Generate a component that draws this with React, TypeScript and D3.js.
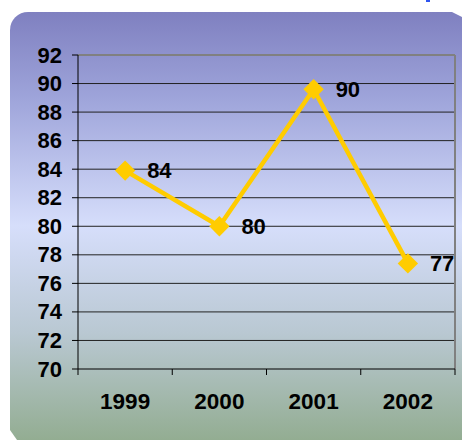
import React from 'react';
import * as d3 from 'd3';

const years = ['1999', '2000', '2001', '2002'];
const scores = [83.9, 80, 89.6, 77.4];
const labels = ['84', '80', '90', '77'];
const yTicks = [70, 72, 74, 76, 78, 80, 82, 84, 86, 88, 90, 92];

const W = 462, H = 440;
const plot = { left: 78, right: 455, top: 55, bottom: 369 };
const font = 'Arial, "Liberation Sans", sans-serif';

const App = () => {
  const x = d3.scaleBand().domain(years).range([plot.left, plot.right]).padding(0);
  const y = d3.scaleLinear().domain([70, 92]).range([plot.bottom, plot.top]);
  const cx = (d: string) => (x(d) as number) + x.bandwidth() / 2;

  const line = d3.line<number>()
    .x((_, i) => cx(years[i]))
    .y(d => y(d));

  const diamond = d3.symbol().type(d3.symbolDiamond2).size(2 * 11.5 * 11.5);

  const bgPath = 'M10,30 A18,18 0 0 1 28,12 L452,12 L462,17 L462,440 L17,440 L10,430 Z';
  const bounds = [plot.left, ...years.map(d => (x(d) as number) + x.bandwidth())];

  return (
    <svg width={W} height={H} style={{ position: 'absolute', left: 0, top: 0 }}>
      <defs>
        <linearGradient id="bg" x1="0" y1="0" x2="0" y2="1">
          <stop offset="0" stopColor="#7f80c0" />
          <stop offset="0.2" stopColor="#9ea4da" />
          <stop offset="0.5" stopColor="#d6defb" />
          <stop offset="0.75" stopColor="#b9c8d2" />
          <stop offset="1" stopColor="#93ad92" />
        </linearGradient>
      </defs>
      <rect x={426} y={0} width={4} height={2} fill="#2f55f0" />
      <path d={bgPath} fill="url(#bg)" />

      {yTicks.slice(1, -1).map(t => (
        <line key={t} x1={plot.left} x2={plot.right} y1={y(t)} y2={y(t)} stroke="#222" strokeWidth={1} />
      ))}
      <line x1={plot.left} x2={plot.right} y1={plot.top} y2={plot.top} stroke="#808080" strokeWidth={2} />
      <line x1={plot.right} x2={plot.right} y1={plot.top} y2={plot.bottom} stroke="#808080" strokeWidth={2} />
      <line x1={plot.left} x2={plot.left} y1={plot.top} y2={plot.bottom} stroke="#000" strokeWidth={1} />
      <line x1={plot.left} x2={plot.right} y1={plot.bottom} y2={plot.bottom} stroke="#000" strokeWidth={1} />

      {yTicks.map(t => (
        <g key={t}>
          <line x1={plot.left - 6} x2={plot.left} y1={y(t)} y2={y(t)} stroke="#000" />
          <text x={62} y={y(t)} dominantBaseline="central" textAnchor="end"
            fontFamily={font} fontWeight="bold" fontSize={22}>{t}</text>
        </g>
      ))}

      {bounds.map((b, i) => (
        <line key={i} x1={b} x2={b} y1={plot.bottom} y2={plot.bottom + 6} stroke="#000" />
      ))}
      {years.map(d => (
        <text key={d} x={cx(d)} y={409} textAnchor="middle"
          fontFamily={font} fontWeight="bold" fontSize={22.5}>{d}</text>
      ))}

      <path d={line(scores) || ''} fill="none" stroke="#ffcc00" strokeWidth={4.5} strokeLinejoin="round" />
      {scores.map((v, i) => (
        <path key={i} d={diamond() || ''} transform={`translate(${cx(years[i])},${y(v)})`} fill="#ffcc00" />
      ))}
      {scores.map((v, i) => (
        <text key={i} x={cx(years[i]) + 22} y={y(v)} dominantBaseline="central"
          fontFamily={font} fontWeight="bold" fontSize={22}>{labels[i]}</text>
      ))}
    </svg>
  );
};

export default App;
